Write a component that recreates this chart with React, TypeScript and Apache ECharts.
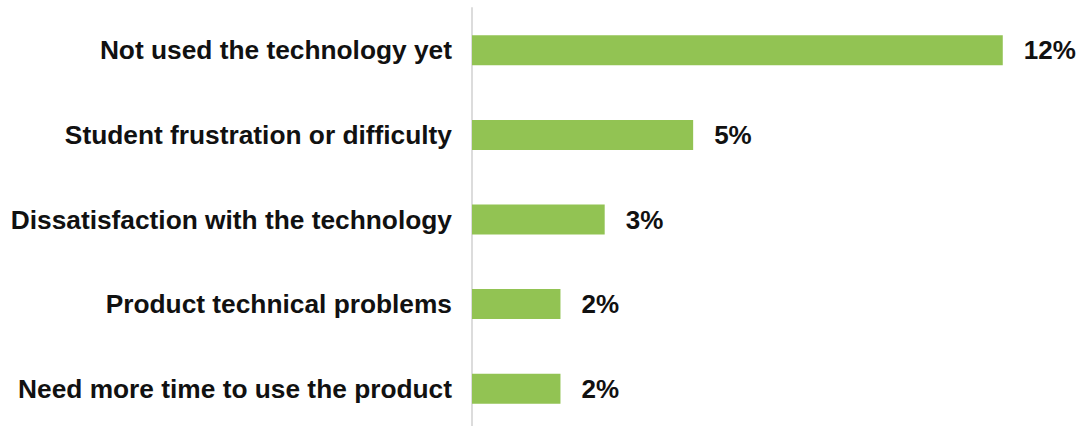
import React, { useEffect, useRef } from "react";
import * as echarts from "echarts";

const categories = [
  "Not used the technology yet",
  "Student frustration or difficulty",
  "Dissatisfaction with the technology",
  "Product technical problems",
  "Need more time to use the product",
];
const values = [12, 5, 3, 2, 2];

export default function App() {
  const ref = useRef<HTMLDivElement>(null);
  useEffect(() => {
    if (!ref.current) return;
    const chart = echarts.init(ref.current, null, { renderer: "svg" });
    const font = "'Liberation Sans', Arial, Helvetica, sans-serif";
    chart.setOption({
      animation: false,
      backgroundColor: "#ffffff",
      grid: { left: 472, top: 8, width: 575, height: 423, containLabel: false },
      xAxis: {
        type: "value",
        min: 0,
        max: 13,
        show: false,
      },
      yAxis: {
        type: "category",
        data: categories,
        inverse: true,
        axisLine: { show: true, lineStyle: { color: "#dcdcdc", width: 2 } },
        axisTick: { show: false },
        axisLabel: {
          margin: 20,
          color: "#111111",
          fontFamily: font,
          fontWeight: "bold",
          fontSize: 26.3,
        },
      },
      series: [
        {
          type: "bar",
          data: values,
          barWidth: 30,
          itemStyle: { color: "#92c353" },
          label: {
            show: true,
            position: "right",
            distance: 21,
            formatter: "{c}%",
            color: "#111111",
            fontFamily: font,
            fontWeight: "bold",
            fontSize: 26,
          },
        },
      ],
    });
    return () => chart.dispose();
  }, []);
  return (
    <div
      ref={ref}
      style={{ position: "fixed", left: 0, top: 0, width: 1079, height: 440 }}
    />
  );
}
